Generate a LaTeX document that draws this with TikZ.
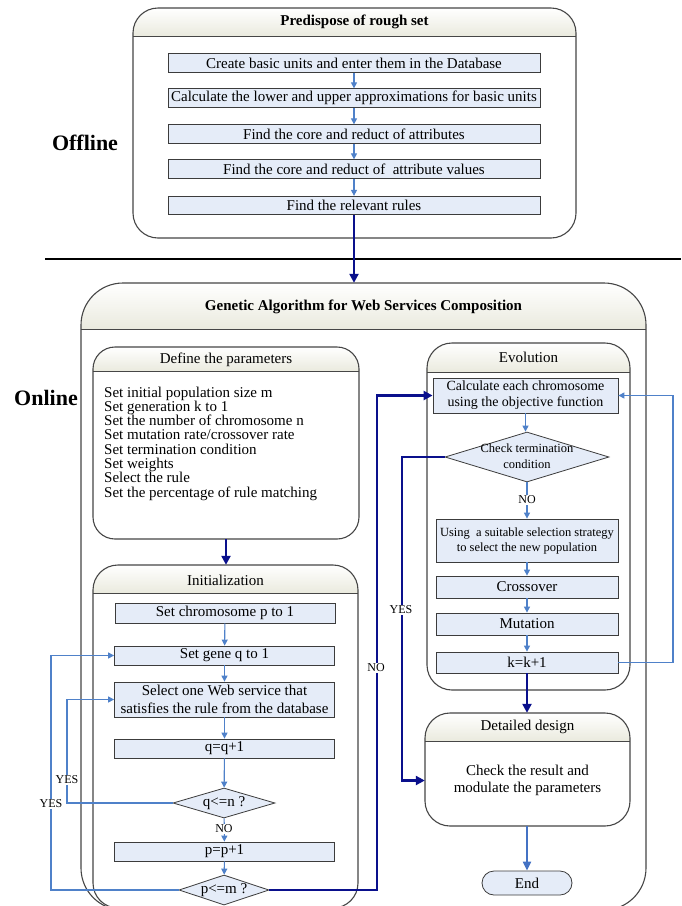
\documentclass[tikz,border=0pt]{standalone}
\usepackage{fontspec}
\setmainfont{Liberation Serif}
\usetikzlibrary{arrows.meta,shapes.geometric,fit}
\definecolor{boxfill}{RGB}{229,236,248}
\definecolor{boxline}{RGB}{60,60,60}
\definecolor{grpline}{RGB}{70,70,70}
\definecolor{hdrbot}{RGB}{234,234,222}
\definecolor{lblue}{RGB}{79,129,201}
\definecolor{mblue}{RGB}{68,114,196}
\definecolor{navy}{RGB}{10,16,140}
\newcommand{\grpbox}[7]{%
  \begin{scope}
    \clip[rounded corners=#7pt] (#2,#3) rectangle (#4,#5);
    \fill[white] (#2,#3) rectangle (#4,#5);
    \shade[top color=white,bottom color=hdrbot] (#2,#3) rectangle (#4,#6);
  \end{scope}
  \draw[grpline,line width=1.1pt,rounded corners=#7pt] (#2,#3) rectangle (#4,#5);
  \draw[grpline,line width=1pt] (#2,#6) -- (#4,#6);
  \node[fit={(#2,#3) (#4,#5)},inner sep=0pt] (#1) {};
}
\tikzset{
  pbox/.style={draw=boxline, fill=boxfill, line width=0.8pt, inner sep=0pt, align=center,
    font=\fontsize{15}{17}\selectfont},
  dbox/.style={diamond, draw=boxline, fill=boxfill, line width=0.8pt, inner sep=0pt},
  larr/.style={lblue, line width=1.1pt, -{Triangle[length=6pt,width=6pt]}},
  narr/.style={navy, line width=2.5pt, -{Triangle[length=9pt,width=9pt]}},
  marr/.style={mblue, line width=2pt, -{Triangle[length=9pt,width=8pt]}},
  lab/.style={fill=white, inner sep=1pt, font=\fontsize{12}{13}\selectfont},
  ttl/.style={font=\fontsize{15}{17}\selectfont},
  bttl/.style={font=\bfseries\fontsize{15}{17}\selectfont},
  side/.style={font=\bfseries\fontsize{22}{24}\selectfont},
}
\begin{document}
\begin{tikzpicture}[x=1pt,y=-1pt]
\useasboundingbox (0,0) rectangle (681,906);
\clip (0,0) rectangle (681,906);
\fill[white] (0,0) rectangle (681,906);

% ---------- Offline part ----------
\grpbox{top}{133}{8}{576}{238}{36}{25}
\node[bttl] (toptitle) at (354.5,22) {Predispose of rough set};
\node[pbox, minimum width=372, minimum height=18.5] (t1) at (354,63) {Create basic units and enter them in the Database};
\node[pbox, minimum width=372, minimum height=18.5] (t2) at (354,98) {Calculate the lower and upper approximations for basic units};
\node[pbox, minimum width=372, minimum height=18.5] (t3) at (354,134) {Find the core and reduct of attributes};
\node[pbox, minimum width=372, minimum height=18.5] (t4) at (354,169) {Find the core and reduct of\ \ attribute values};
\node[pbox, minimum width=372, minimum height=18.5] (t5) at (354,205.5) {Find the relevant rules};
\draw[larr] (t1) -- (t2);
\draw[larr] (t2) -- (t3);
\draw[larr] (t3) -- (t4);
\draw[larr] (t4) -- (t5);

\node[side] (offline) at (85,143) {Offline};
\draw[black, line width=1.2pt] (45,259) -- (681,259);
\node[side] (online) at (46,398) {Online};

% ---------- Online part ----------
\grpbox{big}{81}{283}{646}{910}{329}{42}
\node[bttl] (bigtitle) at (363.5,307) {Genetic Algorithm for Web Services Composition};
\draw[narr] (t5.south) -- (t5.south |- big.north);

% Define the parameters
\grpbox{def}{93}{347}{359}{539}{371}{22}
\node[ttl] (deftitle) at (226,359.5) {Define the parameters};
\foreach \txt [count=\i] in {Set initial population size m, Set generation k to 1,
  Set the number of chromosome n, Set mutation rate/crossover rate,
  Set termination condition, Set weights, Select the rule,
  Set the percentage of rule matching}
  \node[anchor=base west, inner sep=0pt, font=\fontsize{15}{17}\selectfont] (d\i) at (104,{397+14.3*(\i-1)}) {\txt};

% Initialization
\grpbox{init}{93}{565}{358}{908}{593}{25}
\node[ttl] (inittitle) at (225.5,580) {Initialization};
\draw[narr] (def.south) -- (def.south |- init.north);
\node[pbox, minimum width=220, minimum height=20] (i1) at (225,613) {Set chromosome p to 1};
\node[pbox, minimum width=220, minimum height=19] (i2) at (224.5,655.5) {Set gene q to 1};
\node[pbox, minimum width=220, minimum height=35, font=\fontsize{15}{18}\selectfont] (i3) at (224.5,699.5) {Select one Web service that\\satisfies the rule from the database};
\node[pbox, minimum width=220, minimum height=19] (i4) at (224.5,748.5) {q=q+1};
\node[dbox, minimum width=102, minimum height=30] (qd) at (224,803) {};
\node[font=\fontsize{15}{17}\selectfont] (qdt) at (qd) {q<=n ?};
\node[pbox, minimum width=220, minimum height=19] (i5) at (224.5,851.5) {p=p+1};
\node[dbox, minimum width=90, minimum height=30] (pd) at (224,890) {};
\node[font=\fontsize{15}{17}\selectfont] (pdt) at (pd) {p<=m ?};
\draw[larr] (i1) -- (i2);
\draw[larr] (i2) -- (i3);
\draw[larr] (i3) -- (i4);
\draw[larr] (i4) -- (qd);
\draw[larr] (qd) -- (i5);
\node[lab] (noq) at (224,829) {NO};
\draw[larr] (i5) -- (pd);
\coordinate (yq) at (67,803);
\coordinate (yp) at (51,890);
\draw[larr] (qd.west) -- (qd.west -| yq) |- (i3.west);
\draw[larr] (pd.west) -- (pd.west -| yp) |- (i2.west);
\node[lab] (yesq) at (67,780) {YES};
\node[lab] (yesp) at (51,804) {YES};

% Evolution
\grpbox{evo}{427}{343}{630}{690}{372}{25}
\node[ttl] (evotitle) at (528.5,357.5) {Evolution};
\node[pbox, minimum width=185, minimum height=35, font=\fontsize{14}{16}\selectfont] (e1) at (525.5,395.5) {Calculate each chromosome\\using the objective function};
\node[dbox, minimum width=164, minimum height=50] (ed) at (527,457) {};
\node[align=center, font=\fontsize{12.5}{15.5}\selectfont] (edt) at (527,456) {Check termination\\condition};
\node[pbox, minimum width=182, minimum height=43, font=\fontsize{12.5}{15}\selectfont] (e2) at (527,540.5) {Using\ \ a suitable selection strategy\\to select the new population};
\node[pbox, minimum width=182, minimum height=22] (e3) at (527,587) {Crossover};
\node[pbox, minimum width=182, minimum height=22] (e4) at (527,624) {Mutation};
\node[pbox, minimum width=182, minimum height=21] (e5) at (527,662.5) {k=k+1};
\draw[larr] (e1) -- (e1.south |- ed.north);
\draw[larr] (ed.south) -- (ed.south |- e2.north);
\node[lab] (noe) at (527,500) {NO};
\draw[larr] (e2) -- (e3);
\draw[larr] (e3) -- (e4);
\draw[larr] (e4) -- (e5);
\coordinate (fb) at (673,0);
\draw[larr] (e5.east) -- (e5.east -| fb) |- (e1.east);

% Detailed design
\grpbox{det}{425}{713}{630}{826}{741}{25}
\node[ttl] (dettitle) at (527.5,727) {Detailed design};
\node[align=center, font=\fontsize{15}{17}\selectfont] (dtext) at (527.5,780.5) {Check the result and\\modulate the parameters};
\draw[narr] (e5.south) -- (e5.south |- det.north);
\node[draw=boxline, fill=boxfill, line width=0.8pt, rounded corners=12pt, minimum width=90, minimum height=24, inner sep=0pt, font=\fontsize{15}{17}\selectfont] (end) at (527,883) {End};
\draw[marr] (end.north |- det.south) -- (end.north);

% navy loops
\coordinate (yx) at (402,0);
\draw[narr] (ed.west) -- (ed.west -| yx) |- (dtext.west -| det.west);
\node[lab] (yese) at (401,610) {YES};
\coordinate (nox) at (377,0);
\draw[narr] (pd.east) -- (pd.east -| nox) |- (e1.west);
\node[lab] (nop) at (376,668) {NO};
\end{tikzpicture}
\end{document}
